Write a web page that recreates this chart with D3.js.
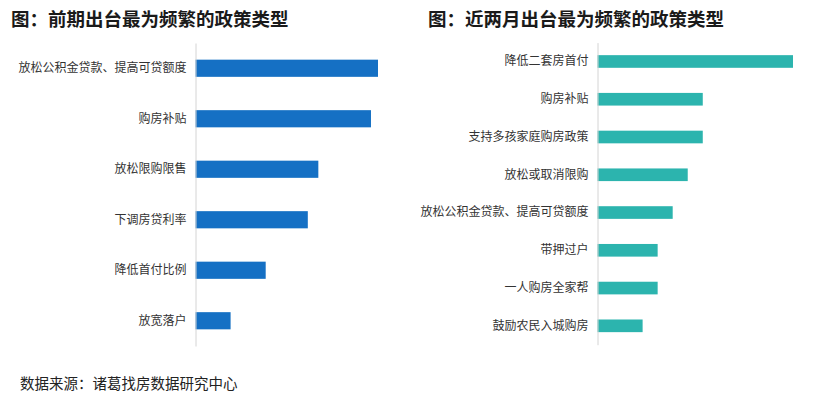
<!DOCTYPE html>
<html>
<head>
<meta charset="utf-8">
<script src="https://cdn.jsdelivr.net/npm/d3@7"></script>
<style>
  body { margin: 0; background: #fff; }
  svg { display: block; font-family: "Noto Sans CJK SC", "Noto Sans", sans-serif; }
</style>
</head>
<body>
<div class="graph"></div>
<script>
// left panel: earlier period
const leftCategories = ['放松公积金贷款、提高可贷额度', '购房补贴', '放松限购限售', '下调房贷利率', '降低首付比例', '放宽落户'];
const leftValues = [52, 50, 35, 32, 20, 10];

// right panel: last two months
const rightCategories = ['降低二套房首付', '购房补贴', '支持多孩家庭购房政策', '放松或取消限购', '放松公积金贷款、提高可贷额度', '带押过户', '一人购房全家帮', '鼓励农民入城购房'];
const rightValues = [13, 7, 7, 6, 5, 4, 4, 3];

const titles = ['图：前期出台最为频繁的政策类型', '图：近两月出台最为频繁的政策类型'];
const source = '数据来源：诸葛找房数据研究中心';

const w = 822;
const h = 402;

const svg = d3.select('.graph')
  .append('svg')
  .attr('width', w)
  .attr('height', h);

function drawPanel(opts) {
  const data = opts.categories.map((c, i) => ({ name: c, value: opts.values[i] }));

  const yScale = d3.scaleBand()
    .domain(opts.categories)
    .range(opts.yRange)
    .paddingInner(opts.pad)
    .paddingOuter(opts.pad / 2);

  const xScale = d3.scaleLinear()
    .domain([0, d3.max(opts.values)])
    .range(opts.xRange);

  svg.append('text')
    .attr('x', opts.titleX)
    .attr('y', 26)
    .attr('font-size', '18.5px')
    .attr('font-weight', 'bold')
    .attr('fill', '#1a1a1a')
    .text(opts.title);

  svg.append('g')
    .selectAll('rect')
    .data(data)
    .join('rect')
    .attr('x', xScale(0))
    .attr('y', (d) => yScale(d.name))
    .attr('width', (d) => xScale(d.value) - xScale(0))
    .attr('height', yScale.bandwidth())
    .attr('fill', opts.color);

  const axis = svg.append('g')
    .attr('transform', `translate(${xScale(0)}, 0)`)
    .call(d3.axisLeft(yScale).tickSize(0).tickPadding(9));

  axis.select('.domain').attr('stroke', '#d4d4d4');
  axis.selectAll('text')
    .attr('font-size', '12px')
    .attr('fill', '#333')
    .style('font-family', '"Noto Sans CJK SC", sans-serif');
}

drawPanel({
  categories: leftCategories,
  values: leftValues,
  title: titles[0],
  titleX: 11,
  xRange: [195.5, 378],
  yRange: [43, 346],
  pad: 0.66,
  color: '#1570c4'
});

drawPanel({
  categories: rightCategories,
  values: rightValues,
  title: titles[1],
  titleX: 428,
  xRange: [597.5, 793],
  yRange: [42.6, 344.7],
  pad: 0.665,
  color: '#2cb4ae'
});

svg.append('text')
  .attr('x', 20)
  .attr('y', 389)
  .attr('font-size', '14.5px')
  .attr('fill', '#222')
  .text(source);
</script>
</body>
</html>
